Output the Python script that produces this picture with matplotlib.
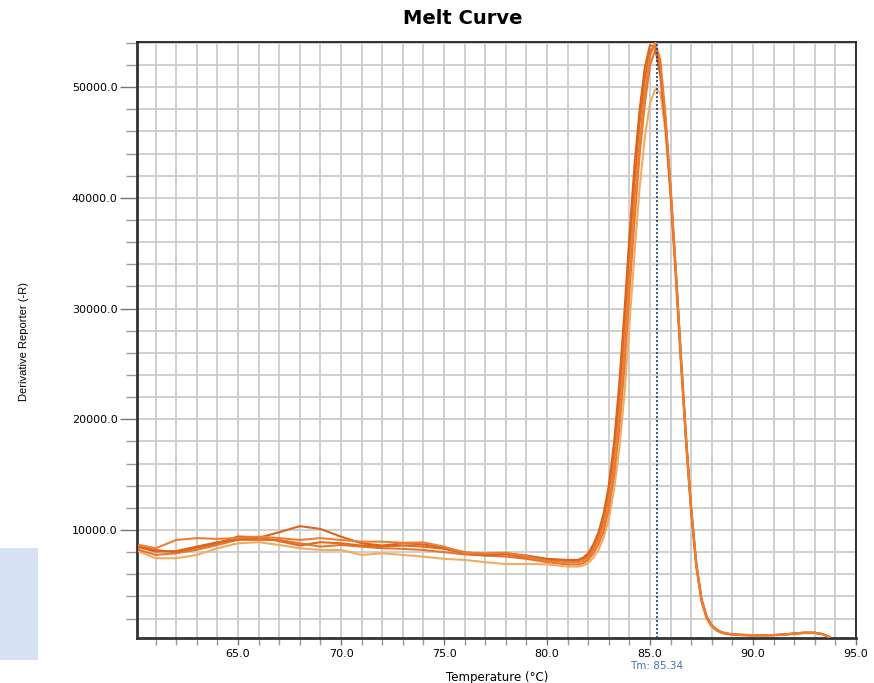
import matplotlib
matplotlib.use("Agg")
import matplotlib.pyplot as plt
from matplotlib.ticker import MultipleLocator, FormatStrFormatter
from matplotlib.patches import Rectangle

# temperatures (deg C) shared by every well
temps = [60.2, 61, 62, 63, 64, 65, 66, 67, 68, 69, 70, 71, 72, 73, 74, 75, 76, 77, 78, 79, 80, 81,
         81.5, 81.75, 82.0, 82.25, 82.5, 82.75, 83.0, 83.25, 83.5, 83.75, 84.0, 84.25, 84.5, 84.75,
         85.0, 85.25, 85.5, 85.75, 86.0, 86.25, 86.5, 86.75, 87.0, 87.25, 87.5, 87.75, 88.0, 88.25,
         88.5, 88.75, 89.0,
         89.5, 90.0, 90.5, 91.0, 91.5, 92.0, 92.5, 93.0, 93.4, 93.7]

# derivative reporter (-R) per well
well_a = [8450, 8050, 8100, 8500, 8900, 9150, 9300, 9800, 10350, 10100, 9400, 8800, 8600, 8800, 8700, 8400, 8000, 7800, 7900, 7700, 7400, 7300,
          7300, 7500, 7900, 8700, 9800, 11500, 14000, 17800, 23000, 29500, 36500, 43000, 48000, 51800,
          53800, 53600, 51000, 46500, 40500, 33500, 25800, 18500, 12000, 7000, 3800, 2200, 1400, 1000,
          760, 660, 600,
          540, 510, 500, 520, 580, 660, 740, 730, 600, 360]
well_b = [8650, 8350, 9100, 9270, 9200, 9270, 9400, 9270, 9100, 9270, 9100, 8950, 8950, 8850, 8880, 8500, 7950, 7900, 7950, 7600, 7200, 7100,
          7100, 7200, 7500, 8200, 9100, 10500, 12600, 15800, 20000, 26000, 33000, 39500, 45000, 49500,
          52800, 54000, 52500, 47500, 41000, 33500, 25500, 18200, 11800, 6800, 3700, 2100, 1350, 950,
          730, 630, 570,
          520, 500, 500, 510, 560, 650, 720, 720, 600, 350]
well_c = [8210, 7750, 7900, 8210, 8650, 9120, 9100, 9100, 8800, 8500, 8650, 8500, 8350, 8300, 8200, 8000, 7800, 7700, 7600, 7400, 7100, 6900,
          6900, 7000, 7300, 7900, 8700, 9900, 11900, 14900, 19000, 24500, 31500, 38000, 44000, 48500,
          52000, 53300, 52000, 47000, 40500, 33000, 25200, 18000, 11600, 6700, 3600, 2050, 1300, 920,
          710, 610, 560,
          500, 480, 490, 500, 550, 630, 700, 700, 580, 330]
well_d = [8050, 7450, 7450, 7750, 8350, 8800, 8900, 8650, 8350, 8200, 8200, 7750, 7900, 7750, 7600, 7400, 7300, 7100, 6930, 6930, 6900, 6700,
          6700, 6800, 7000, 7500, 8200, 9300, 11000, 13600, 17200, 22000, 28500, 35000, 41000, 45500,
          48500, 49800, 49500, 46000, 40000, 32800, 25000, 17800, 11500, 6600, 3500, 2000, 1280, 900,
          700, 600, 550,
          490, 470, 480, 490, 540, 620, 690, 690, 570, 320]
well_e = [8500, 8200, 8000, 8400, 8800, 9420, 9350, 9000, 8600, 8900, 8800, 8600, 8500, 8600, 8500, 8300, 7900, 7700, 7800, 7500, 7300, 7200,
          7200, 7400, 7700, 8400, 9400, 11000, 13300, 16800, 21500, 27800, 35000, 41500, 46800, 50800,
          53300, 53700, 51800, 47000, 40800, 33600, 25700, 18300, 11900, 6900, 3750, 2150, 1380, 980,
          740, 640, 580,
          530, 505, 505, 515, 570, 655, 730, 725, 590, 340]

wells = [well_d, well_c, well_e, well_a, well_b]
colors = ['#f2ab62', '#e8772f', '#e06a20', '#d9661f', '#ec7f35']

tm = 85.34

fig = plt.figure(figsize=(8.74, 6.83), dpi=100)
ax = fig.add_axes([0.1568, 0.0659, 0.8226, 0.8726])

# leftover blue box at lower left of the original screenshot
fig.patches.append(Rectangle((0, 0.034), 0.0435, 0.164, transform=fig.transFigure,
                             facecolor='#d6e1f3', edgecolor='none'))

for w, c in zip(wells, colors):
    ax.plot(temps, w, color=c, lw=1.5, zorder=3)

ax.axvline(tm, color='#1f3f80', lw=1.2, ls=(0, (1.2, 1.2)), zorder=4)

ax.set_xlim(60.1, 95.0)
ax.set_ylim(250, 54070)
ax.xaxis.set_major_locator(MultipleLocator(5))
ax.xaxis.set_minor_locator(MultipleLocator(1))
ax.yaxis.set_major_locator(MultipleLocator(10000))
ax.yaxis.set_minor_locator(MultipleLocator(2000))
ax.xaxis.set_major_formatter(FormatStrFormatter('%.1f'))
ax.yaxis.set_major_formatter(FormatStrFormatter('%.1f'))

ax.grid(which='both', color='#cbcbcb', lw=1.3, zorder=0)
ax.set_axisbelow(True)

ax.tick_params(axis='both', which='major', labelsize=8, color='#777777', width=1, length=12)
ax.tick_params(axis='both', which='minor', color='#999999', width=1, length=8)
ax.tick_params(axis='x', which='major', length=5, pad=3)
ax.tick_params(axis='x', which='minor', length=5)
ax.tick_params(axis='y', which='major', pad=2)

for s in ['left', 'bottom']:
    ax.spines[s].set_linewidth(2)
    ax.spines[s].set_color('#333333')
for s in ['top', 'right']:
    ax.spines[s].set_linewidth(1.3)
    ax.spines[s].set_color('#222222')

fig.text(0.529, 0.973, 'Melt Curve', ha='center', va='center', fontsize=14, fontweight='bold')
fig.text(0.5685, 0.008, 'Temperature (\u00b0C)', ha='center', va='center', fontsize=8.5)
fig.text(0.027, 0.50, 'Derivative Reporter (-R)', ha='center', va='center', rotation=90,
         fontsize=8, family=['Liberation Sans Narrow', 'Liberation Sans', 'DejaVu Sans'])
ax.text(tm, -0.047, 'Tm: 85.34', transform=ax.get_xaxis_transform(), ha='center', va='center',
        fontsize=7.5, color='#3f75ad')

fig.savefig('out.png', dpi=100)
